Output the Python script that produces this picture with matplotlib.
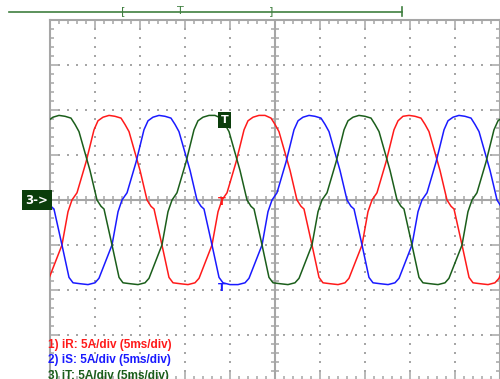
import numpy as np
import matplotlib.pyplot as plt
from matplotlib.ticker import MultipleLocator

# phase currents, vertices of each trace (time in ms, current in A)
ir_t = [-25.56, -25.11, -23.67, -23.0,
        -22.56, -22.0, -21.0, -20.11, -19.67, -19.11, -18.44, -17.78, -17.11, -16.67, -16.22,
        -15.0, -14.22, -13.78, -13.44, -12.56, -11.78, -11.33, -10.56, -9.67, -8.89, -8.44,
        -7.0, -6.33,
        -5.89, -5.33, -4.33, -3.44, -3.0, -2.44, -1.78, -1.11, -0.44, 0.0, 0.44,
        1.67, 2.44, 2.89, 3.22, 4.11, 4.89, 5.33, 6.11, 7.0, 7.78, 8.22,
        9.67, 10.33,
        10.78, 11.33, 12.33, 13.22, 13.67, 14.22, 14.89, 15.56, 16.22, 16.67, 17.11,
        18.33, 19.11, 19.56, 19.89, 20.78, 21.56, 22.0, 22.78, 23.67, 24.44, 24.89, 26.33]
ir_a = [-9.2, -8.7, -5.0, -1.3,
        0.0, 0.8, 4.2, 7.8, 8.8, 9.2, 9.4, 9.3, 9.1, 8.4, 7.6,
        3.3, 0.0, -0.7, -1.0, -5.0, -8.6, -9.2, -9.3, -9.4, -9.2, -8.7,
        -5.0, -1.3,
        0.0, 0.8, 4.2, 7.8, 8.8, 9.2, 9.4, 9.4, 9.1, 8.4, 7.6,
        3.3, 0.0, -0.7, -1.0, -5.0, -8.6, -9.2, -9.3, -9.4, -9.2, -8.7,
        -5.0, -1.3,
        0.0, 0.8, 4.2, 7.8, 8.8, 9.3, 9.4, 9.3, 9.1, 8.4, 7.6,
        3.3, 0.0, -0.7, -1.0, -5.0, -8.6, -9.2, -9.3, -9.4, -9.2, -8.7, -5.0]

is_t = [-26.11, -25.33, -24.89, -24.56, -23.67, -22.89, -22.44, -21.67, -20.78, -20.0, -19.56,
        -18.11, -17.44,
        -17.0, -16.44, -15.44, -14.56, -14.11, -13.56, -12.89, -12.22, -11.56, -11.11, -10.67,
        -9.44, -8.67, -8.22, -7.89, -7.0, -6.22, -5.78, -5.0, -4.11, -3.33, -2.89,
        -1.44, -0.78,
        -0.33, 0.22, 1.22, 2.11, 2.56, 3.11, 3.78, 4.44, 5.11, 5.56, 6.0,
        7.22, 8.0, 8.44, 8.78, 9.67, 10.44, 10.89, 11.67, 12.56, 13.33, 13.78,
        15.22, 15.89,
        16.33, 16.89, 17.89, 18.78, 19.22, 19.78, 20.44, 21.11, 21.78, 22.22, 22.67,
        23.89, 24.67, 25.11]
is_a = [3.3, 0.0, -0.7, -1.0, -5.0, -8.6, -9.2, -9.3, -9.4, -9.2, -8.7,
        -5.0, -1.3,
        0.0, 0.8, 4.2, 7.8, 8.8, 9.2, 9.4, 9.3, 9.1, 8.4, 7.6,
        3.3, 0.0, -0.7, -1.0, -5.0, -8.6, -9.2, -9.4, -9.4, -9.2, -8.7,
        -5.0, -1.3,
        0.0, 0.8, 4.2, 7.8, 8.8, 9.2, 9.4, 9.3, 9.1, 8.4, 7.6,
        3.3, 0.0, -0.7, -1.0, -5.0, -8.6, -9.2, -9.3, -9.4, -9.2, -8.7,
        -5.0, -1.3,
        0.0, 0.8, 4.2, 7.8, 8.8, 9.2, 9.4, 9.3, 9.1, 8.4, 7.6,
        3.3, 0.0, -0.7]

it_t = [-25.67, -25.22, -24.67, -24.0, -23.33, -22.67, -22.22, -21.78,
        -20.56, -19.78, -19.33, -19.0, -18.11, -17.33, -16.89, -16.11, -15.22, -14.44, -14.0,
        -12.56, -11.89,
        -11.44, -10.89, -9.89, -9.0, -8.56, -8.0, -7.33, -6.67, -6.0, -5.56, -5.11,
        -3.89, -3.11, -2.67, -2.33, -1.44, -0.67, -0.22, 0.56, 1.44, 2.22, 2.67,
        4.11, 4.78,
        5.22, 5.78, 6.78, 7.67, 8.11, 8.67, 9.33, 10.0, 10.67, 11.11, 11.56,
        12.78, 13.56, 14.0, 14.33, 15.22, 16.0, 16.44, 17.22, 18.11, 18.89, 19.33,
        20.78, 21.44,
        21.89, 22.44, 23.44, 24.33, 24.78, 25.33]
it_a = [7.8, 8.8, 9.2, 9.4, 9.3, 9.1, 8.4, 7.6,
        3.3, 0.0, -0.7, -1.0, -5.0, -8.6, -9.2, -9.3, -9.4, -9.2, -8.7,
        -5.0, -1.3,
        0.0, 0.8, 4.2, 7.8, 8.8, 9.2, 9.4, 9.4, 9.1, 8.4, 7.6,
        3.3, 0.0, -0.7, -1.0, -5.0, -8.6, -9.2, -9.3, -9.4, -9.2, -8.7,
        -5.0, -1.3,
        0.0, 0.8, 4.2, 7.8, 8.8, 9.2, 9.4, 9.3, 9.1, 8.4, 7.6,
        3.3, 0.0, -0.7, -1.0, -5.0, -8.6, -9.2, -9.3, -9.4, -9.2, -8.7,
        -5.0, -1.3,
        0.0, 0.8, 4.2, 7.8, 8.8, 9.2]

# trigger point and per-channel marker levels
trig_time = -5.9
trig_levels = {'iR': -0.2, 'iS': -9.8, 'iT': 8.9}

labels = ['1) iR: 5A/div (5ms/div)', '2) iS: 5A/div (5ms/div)', '3) iT: 5A/div (5ms/div)']
colors = ['#ff1a1a', '#1a1aff', '#1b5e1b']
grid_col = '#a6a6a6'

fig = plt.figure(figsize=(5, 3.79), dpi=100)
ax = fig.add_axes([0.1, -1 / 379, 0.9, 360 / 379])
ax.set_xlim(-25, 25)
ax.set_ylim(-20, 20)

# dotted graticule
for gx in np.arange(-20, 21, 5):
    if gx == 0:
        continue
    yy = np.arange(-20, 21, 1)
    ax.scatter(np.full(yy.shape, gx), yy, s=1.2, marker='s', color=grid_col, lw=0, zorder=1)
for gy in np.arange(-15, 16, 5):
    if gy == 0:
        continue
    xx = np.arange(-24, 25, 1)
    ax.scatter(xx, np.full(xx.shape, gy), s=1.2, marker='s', color=grid_col, lw=0, zorder=1)

# centre cross with its own ticks
ax.axhline(0, color=grid_col, lw=1.5, zorder=1)
ax.axvline(0, color=grid_col, lw=1.5, zorder=1)
tk = np.arange(-24, 25, 1)
ax.plot(tk, np.zeros(tk.shape), ls='none', marker='|', ms=5.5, mew=1.1, color=grid_col, zorder=1)
tk = np.arange(-19, 20, 1)
ax.plot(np.zeros(tk.shape), tk, ls='none', marker='_', ms=5.5, mew=1.1, color=grid_col, zorder=1)

# traces
ax.plot(ir_t, ir_a, color=colors[0], lw=1.1, zorder=3)
ax.plot(is_t, is_a, color=colors[1], lw=1.1, zorder=3)
ax.plot(it_t, it_a, color=colors[2], lw=1.1, zorder=3)

# trigger markers
ax.text(trig_time, trig_levels['iR'], 'T', color=colors[0], fontsize=8, fontweight='bold',
        ha='center', va='center', zorder=4)
ax.text(trig_time, trig_levels['iS'], 'T', color=colors[1], fontsize=8, fontweight='bold',
        ha='center', va='center', zorder=4)
ax.text(trig_time + 0.3, trig_levels['iT'], 'T', color='white', fontsize=8, fontweight='bold',
        ha='center', va='center', zorder=5,
        bbox=dict(boxstyle='square,pad=0.25', fc='#0b3d0b', ec='none'))

# channel 3 ground marker
ax.text(-0.004, 0.5, '3->', transform=ax.transAxes, color='white', fontsize=8.5,
        fontweight='bold', ha='right', va='center', clip_on=False, zorder=5,
        bbox=dict(boxstyle='square,pad=0.3', fc='#0b3d0b', ec='none'))

ax.xaxis.set_major_locator(MultipleLocator(5))
ax.xaxis.set_minor_locator(MultipleLocator(1))
ax.yaxis.set_major_locator(MultipleLocator(5))
ax.yaxis.set_minor_locator(MultipleLocator(1))
ax.tick_params(which='both', direction='in', top=True, bottom=True, left=True, right=True,
               labelbottom=False, labelleft=False, color=grid_col, width=1.1)
ax.tick_params(which='major', length=5.8)
ax.tick_params(which='minor', length=3)
for sp in ax.spines.values():
    sp.set_color(grid_col)
    sp.set_linewidth(1.5)

# overlay in pixel units: record-length bar and channel legend
deco = fig.add_axes([0, 0, 1, 1], facecolor='none')
deco.set_xlim(0, 500)
deco.set_ylim(379, 0)
deco.axis('off')
bar_col = '#3f7f3f'
deco.plot([9, 402], [11.5, 11.5], color=bar_col, lw=1.2)
deco.plot([402, 402], [7, 16], color=bar_col, lw=1.2)
deco.text(123.5, 11.5, '[', color=bar_col, fontsize=8, ha='center', va='center')
deco.text(271, 11.5, ']', color=bar_col, fontsize=8, ha='center', va='center')
deco.text(180, 11, 'T', color=bar_col, fontsize=8, ha='center', va='center')

for i, (lab, c) in enumerate(zip(labels, colors)):
    deco.text(48, 345 + i * 15.5, lab, color=c, fontsize=8.5, fontweight='bold',
              family='Liberation Sans', ha='left', va='center', zorder=6)

fig.savefig('out.png', dpi=100)
